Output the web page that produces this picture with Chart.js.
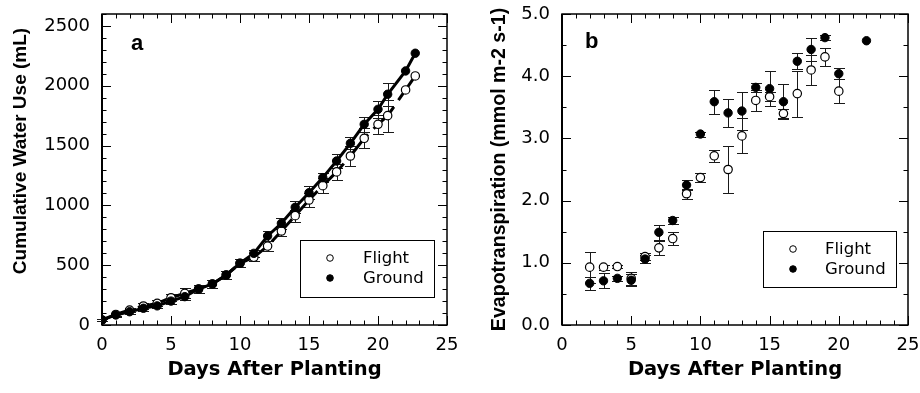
<!DOCTYPE html>
<html><head><meta charset="utf-8">
<script src="https://cdn.jsdelivr.net/npm/chart.js@4"></script>
<style>
html,body{margin:0;padding:0;background:#fff;}
#wrap{position:relative;width:920px;height:393px;overflow:hidden;}
.pane{position:absolute;top:0;width:460px;height:393px;}
canvas{display:block;}
</style></head><body>
<div id="wrap">
<div class="pane" style="left:0"><canvas id="ca" width="460" height="393" style="width:460px;height:393px"></canvas></div>
<div class="pane" style="left:460px"><canvas id="cb" width="460" height="393" style="width:460px;height:393px"></canvas></div>
</div>
<script>
// ---- Panel a: cumulative water use (mL) ----
const daysA = [0,1,2,3,4,5,6,7,8,9,10,11,12,13,14,15,16,17,18,19,20,20.7,22,22.7];
const flightA = [42,88,125,159,181,228,265,301,343,418,516,566,660,786,914,1045,1165,1280,1413,1561,1678,1750,1965,2082];
const flightErrA = [10,15,20,25,25,30,42,30,30,35,35,33,40,45,50,55,60,70,80,85,80,134,0,0];
const groundA = [42,84,111,140,160,200,237,301,343,418,516,599,744,850,984,1106,1232,1371,1519,1678,1803,1929,2124,2272];
const groundErrA = [10,15,15,20,20,25,30,30,30,35,35,30,40,45,50,55,40,55,50,63,70,97,0,0];
const xTicks = [0,5,10,15,20,25];
const yTicksA = [0,500,1000,1500,2000,2500];

// ---- Panel b: evapotranspiration (mmol m-2 s-1) ----
const daysB = [2,3,4,5,6,7,8,9,10,11,12,13,14,15,16,17,18,19,20,22];
const flightB = [0.93,0.93,0.94,0.75,1.10,1.24,1.39,2.11,2.37,2.72,2.50,3.04,3.61,3.67,3.40,3.72,4.10,4.31,3.76,null];
const flightErrB = [0.25,0.04,0.03,0.10,0.05,0.11,0.10,0.08,0.07,0.10,0.38,0.28,0.17,0.07,0.08,0.37,0.24,0.14,0.19,0];
const groundB = [0.67,0.71,0.75,0.72,1.06,1.49,1.68,2.25,3.07,3.59,3.41,3.44,3.82,3.80,3.59,4.24,4.43,4.62,4.04,4.57];
const groundErrB = [0.10,0.12,0.04,0.10,0.07,0.12,0.06,0.08,0.04,0.19,0.22,0.30,0.07,0.28,0.28,0.13,0.19,0.04,0.09,0];
const yTicksB = [0,1,2,3,4,5];

Chart.defaults.font.family = 'DejaVu Sans';
Chart.defaults.color = '#000';

const pts = (xs, ys) => xs.map((x, i) => ({x: x, y: ys[i]}));

const framePlugin = {
  id: 'frame',
  beforeDatasetsDraw(chart, args, o) {
    const {ctx, chartArea: a, scales: {x, y}} = chart;
    ctx.save();
    ctx.strokeStyle = '#000';
    ctx.lineWidth = 1;
    const seg = (x1, y1, x2, y2) => { ctx.beginPath(); ctx.moveTo(x1, y1); ctx.lineTo(x2, y2); ctx.stroke(); };
    const isMajor = (v, m) => Math.abs(v / m - Math.round(v / m)) < 1e-6;
    for (let k = 0; x.min + k * o.xMinor <= x.max + 1e-9; k++) {
      const v = x.min + k * o.xMinor;
      const L = isMajor(v, o.xMajor) ? 9 : 4.5;
      const px = Math.round(x.getPixelForValue(v)) + 0.5;
      seg(px, a.bottom, px, a.bottom - L);
      seg(px, a.top, px, a.top + L);
    }
    for (let k = 0; y.min + k * o.yMinor <= y.max + 1e-9; k++) {
      const v = y.min + k * o.yMinor;
      const L = isMajor(v, o.yMajor) ? 9 : 4.5;
      const py = Math.round(y.getPixelForValue(v)) + 0.5;
      seg(a.left, py, a.left + L, py);
      seg(a.right, py, a.right - L, py);
    }
    ctx.lineWidth = 1.5;
    ctx.strokeRect(a.left, a.top, a.right - a.left, a.bottom - a.top);
    ctx.lineWidth = 2;
    seg(a.left, a.top, a.left, a.bottom);
    ctx.restore();
  }
};

const errorBarPlugin = {
  id: 'errorBars',
  beforeDatasetsDraw(chart) {
    const {ctx, scales: {x, y}} = chart;
    ctx.save();
    ctx.strokeStyle = '#1a1a1a';
    ctx.lineWidth = 1;
    chart.data.datasets.forEach(ds => {
      if (!ds.errors) return;
      ds.data.forEach((p, i) => {
        const e = ds.errors[i];
        if (p.y == null || !e) return;
        const px = Math.round(x.getPixelForValue(p.x)) + 0.5;
        const t = Math.round(y.getPixelForValue(p.y + e)) + 0.5;
        const b = Math.round(y.getPixelForValue(p.y - e)) + 0.5;
        ctx.beginPath();
        ctx.moveTo(px, t); ctx.lineTo(px, b);
        ctx.moveTo(px - 5.5, t); ctx.lineTo(px + 5.5, t);
        ctx.moveTo(px - 5.5, b); ctx.lineTo(px + 5.5, b);
        ctx.stroke();
      });
    });
    ctx.restore();
  }
};

const boxLegendPlugin = {
  id: 'boxLegend',
  afterDraw(chart, args, o) {
    const {ctx} = chart;
    ctx.save();
    ctx.fillStyle = '#fff';
    ctx.fillRect(o.x, o.y, o.w, o.h);
    ctx.strokeStyle = '#000';
    ctx.lineWidth = 1;
    ctx.strokeRect(o.x + 0.5, o.y + 0.5, o.w, o.h);
    const items = chart.data.datasets.filter(d => d.inLegend);
    items.forEach((d, i) => {
      const cy = o.y + o.row0 + i * o.rowGap;
      ctx.beginPath();
      ctx.arc(o.x + o.mx, cy, o.r, 0, Math.PI * 2);
      ctx.fillStyle = d.backgroundColor;
      ctx.fill();
      ctx.lineWidth = 1;
      ctx.strokeStyle = d.borderColor;
      ctx.stroke();
      ctx.fillStyle = '#000';
      ctx.font = o.font;
      ctx.textAlign = 'left';
      ctx.textBaseline = 'middle';
      ctx.fillText(d.label, o.x + o.tx, cy + 1);
    });
    ctx.restore();
  }
};

const panelLabelPlugin = {
  id: 'panelLabel',
  afterDraw(chart, args, o) {
    const {ctx} = chart;
    ctx.save();
    ctx.fillStyle = '#000';
    ctx.font = o.font;
    ctx.textAlign = 'left';
    ctx.textBaseline = 'alphabetic';
    ctx.fillText(o.text, o.x, o.y);
    ctx.restore();
  }
};

function xScale() {
  return {
    type: 'linear', min: 0, max: 25,
    afterBuildTicks: s => { s.ticks = xTicks.map(v => ({value: v})); },
    afterFit: s => { s.height = 68; s.paddingLeft = 0; s.paddingRight = 0; },
    grid: {display: false, drawTicks: false},
    border: {display: false},
    ticks: {padding: 10, autoSkip: false, maxRotation: 0, color: '#000', font: {family: 'DejaVu Sans', size: 18}},
    title: {display: true, text: 'Days After Planting', color: '#000',
            font: {family: 'DejaVu Sans', weight: 'bold', size: 19.5}, padding: {top: 0, bottom: 11}}
  };
}

function yScale(min, max, ticks, fmt, title, titleSize, titlePad) {
  return {
    type: 'linear', min: min, max: max,
    afterBuildTicks: s => { s.ticks = ticks.map(v => ({value: v})); },
    afterFit: s => { s.width = 102; s.paddingTop = 0; s.paddingBottom = 0; },
    grid: {display: false, drawTicks: false},
    border: {display: false},
    ticks: {padding: 12, color: '#000', font: {family: 'DejaVu Sans', size: 18}, callback: fmt},
    title: {display: true, text: title, color: '#000',
            font: {family: 'Liberation Sans', weight: 'bold', size: titleSize}, padding: {top: titlePad, bottom: 0}}
  };
}

const openStyle = {backgroundColor: '#fff', borderColor: '#000', borderWidth: 1.2, pointRadius: 4.2, pointHoverRadius: 4.2};
const fillStyle = {backgroundColor: '#000', borderColor: '#000', borderWidth: 1, pointRadius: 4.2, pointHoverRadius: 4.2};

new Chart(document.getElementById('ca'), {
  type: 'scatter',
  data: {
    datasets: [
      Object.assign({label: 'Flight', data: pts(daysA, flightA), errors: flightErrA, showLine: false, inLegend: true, order: 1}, openStyle),
      Object.assign({label: 'Ground', data: pts(daysA, groundA), errors: groundErrA, showLine: false, inLegend: true, order: 0}, fillStyle),
      {label: 'Flight trend', data: pts(daysA, flightA), showLine: true, pointRadius: 0, borderColor: '#000', backgroundColor: '#000', borderWidth: 3, borderDash: [30, 8], order: 3},
      {label: 'Ground trend', data: pts(daysA, groundA), showLine: true, pointRadius: 0, borderColor: '#000', backgroundColor: '#000', borderWidth: 3, order: 2}
    ]
  },
  options: {
    responsive: false, animation: false, events: [],
    layout: {padding: {left: 0, right: 13, top: 14, bottom: 0}},
    plugins: {
      legend: {display: false}, tooltip: {enabled: false},
      frame: {xMajor: 5, xMinor: 1, yMajor: 500, yMinor: 100},
      boxLegend: {x: 300, y: 240, w: 134, h: 57, mx: 30, tx: 63, row0: 18, rowGap: 20, r: 3.3, font: '16.5px "DejaVu Sans"'},
      panelLabel: {text: 'a', x: 131, y: 50, font: 'bold 22px "Liberation Sans"'}
    },
    scales: {
      x: xScale(),
      y: yScale(0, 2600, yTicksA, v => String(v), '       Cumulative Water Use (mL)', 19, 9)
    }
  },
  plugins: [framePlugin, errorBarPlugin, boxLegendPlugin, panelLabelPlugin]
});

new Chart(document.getElementById('cb'), {
  type: 'scatter',
  data: {
    datasets: [
      Object.assign({label: 'Flight', data: pts(daysB, flightB), errors: flightErrB, showLine: false, inLegend: true, order: 1}, openStyle),
      Object.assign({label: 'Ground', data: pts(daysB, groundB), errors: groundErrB, showLine: false, inLegend: true, order: 0}, fillStyle)
    ]
  },
  options: {
    responsive: false, animation: false, events: [],
    layout: {padding: {left: 0, right: 12, top: 14, bottom: 0}},
    plugins: {
      legend: {display: false}, tooltip: {enabled: false},
      frame: {xMajor: 5, xMinor: 1, yMajor: 1, yMinor: 0.5},
      boxLegend: {x: 303, y: 231, w: 133, h: 56, mx: 30, tx: 62, row0: 18, rowGap: 20, r: 3.3, font: '16.5px "DejaVu Sans"'},
      panelLabel: {text: 'b', x: 125, y: 48, font: 'bold 22px "Liberation Sans"'}
    },
    scales: {
      x: xScale(),
      y: yScale(0, 5, yTicksB, v => Number(v).toFixed(1), 'Evapotranspiration (mmol m-2 s-1)', 19.6, 28)
    }
  },
  plugins: [framePlugin, errorBarPlugin, boxLegendPlugin, panelLabelPlugin]
});
</script>
</body></html>
